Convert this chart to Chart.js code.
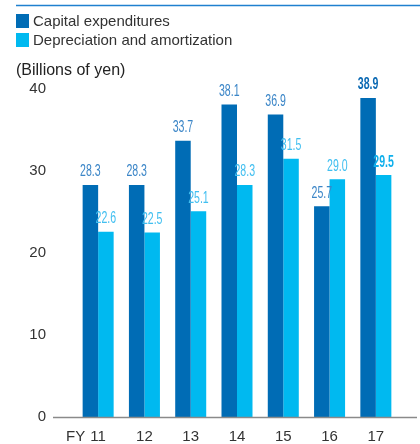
<!DOCTYPE html>
<html>
<head>
<meta charset="utf-8">
<script src="https://cdn.jsdelivr.net/npm/chart.js@4"></script>
<style>
  html, body { margin: 0; padding: 0; background: #fff; }
  #wrap { width: 420px; height: 444px; }
</style>
</head>
<body>
<div id="wrap"><canvas id="myChart" width="420" height="444"></canvas></div>
<script>
const years = ['11', '12', '13', '14', '15', '16', '17'];
const capex = [28.3, 28.3, 33.7, 38.1, 36.9, 25.7, 38.9];
const depreciation = [22.6, 22.5, 25.1, 28.3, 31.5, 29.0, 29.5];
const yTicks = [0, 10, 20, 30, 40];

const darkBlue = '#006cb5';
const cyan = '#00b9f0';
const mainFont = "'Liberation Sans', Arial, sans-serif";

// legend, unit title, top rule, baseline, FY prefix and value labels
const decorations = {
  id: 'decorations',
  afterDraw(chart) {
    const c = chart.ctx;
    const area = chart.chartArea;
    c.save();

    c.strokeStyle = '#1f80cf';
    c.lineWidth = 1.5;
    c.beginPath();
    c.moveTo(16, 5.5);
    c.lineTo(420, 5.5);
    c.stroke();

    const legend = [['Capital expenditures', darkBlue], ['Depreciation and amortization', cyan]];
    c.font = '15px ' + mainFont;
    c.textBaseline = 'middle';
    c.textAlign = 'left';
    legend.forEach((item, i) => {
      const y = 14 + i * 19;
      c.fillStyle = item[1];
      c.fillRect(16, y, 13, 14);
      c.fillStyle = '#333';
      c.fillText(item[0], 33, y + 7.5);
    });

    c.font = '16px ' + mainFont;
    c.fillStyle = '#222';
    c.fillText('(Billions of yen)', 16, 71);

    c.strokeStyle = '#8a8a8a';
    c.lineWidth = 1.5;
    c.beginPath();
    c.moveTo(53, area.bottom + 0.5);
    c.lineTo(417, area.bottom + 0.5);
    c.stroke();

    c.font = '15px ' + mainFont;
    c.fillStyle = '#333';
    c.fillText('FY', 66, 437);

    // condensed value labels
    const labelColors = [['#3a85c7', '#0b69b3'], ['#41bff0', '#10b0ec']];
    chart.data.datasets.forEach((ds, di) => {
      chart.getDatasetMeta(di).data.forEach((bar, i) => {
        const last = i === ds.data.length - 1;
        c.save();
        c.translate(bar.x, bar.y - 5);
        c.scale(0.66, 1);
        c.font = (last ? 'bold ' : '') + '16px ' + mainFont;
        c.fillStyle = labelColors[di][last ? 1 : 0];
        c.textAlign = 'center';
        c.textBaseline = 'bottom';
        c.fillText(ds.data[i].toFixed(1), 0, 0);
        c.restore();
      });
    });
    c.restore();
  }
};

new Chart(document.getElementById('myChart'), {
  type: 'bar',
  data: {
    labels: years,
    datasets: [
      { label: 'Capital expenditures', data: capex, backgroundColor: darkBlue },
      { label: 'Depreciation and amortization', data: depreciation, backgroundColor: cyan }
    ]
  },
  options: {
    responsive: false,
    animation: false,
    layout: { padding: { top: 89, right: 21, left: 0, bottom: 0 } },
    datasets: { bar: { categoryPercentage: 0.67, barPercentage: 1 } },
    plugins: { legend: { display: false }, tooltip: { enabled: false } },
    scales: {
      x: {
        grid: { display: false, drawTicks: false },
        border: { display: false },
        ticks: { color: '#333', font: { size: 15, family: mainFont }, padding: 11, maxRotation: 0 },
        afterFit(scale) { scale.height = 27; }
      },
      y: {
        min: 0,
        max: 40,
        afterBuildTicks(scale) { scale.ticks = yTicks.map(v => ({ value: v })); },
        grid: { display: false, drawTicks: false },
        border: { display: false },
        ticks: { color: '#333', font: { size: 15, family: mainFont }, padding: 29 },
        afterFit(scale) {
          scale.width = 75;
          // the wide label gap would otherwise push the plot bottom up
          scale.paddingTop = 8;
          scale.paddingBottom = 8;
        }
      }
    }
  },
  plugins: [decorations]
});
</script>
</body>
</html>
